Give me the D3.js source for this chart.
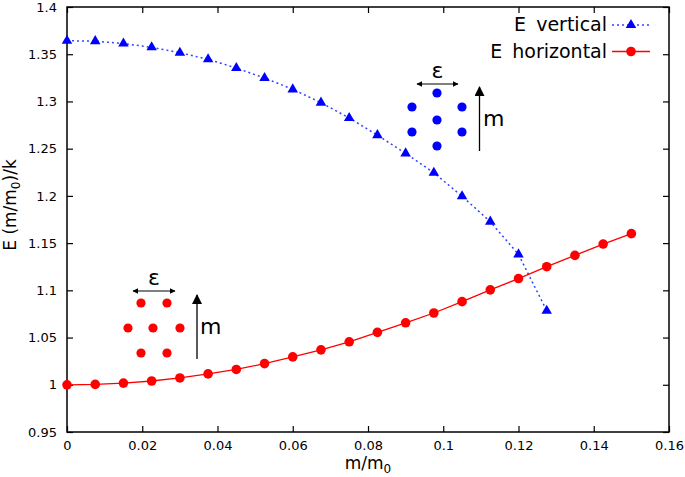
<!DOCTYPE html>
<html><head><meta charset="utf-8">
<script src="https://cdn.jsdelivr.net/npm/d3@7"></script>
<style>body{margin:0;background:#fff}svg{display:block}text{font-family:"DejaVu Sans",sans-serif}</style>
</head><body>
<script>
const xTicks=[0,0.02,0.04,0.06,0.08,0.1,0.12,0.14,0.16];
const yTicks=[0.95,1,1.05,1.1,1.15,1.2,1.25,1.3,1.35,1.4];
const horizX=[0,0.0075,0.015,0.0225,0.03,0.0375,0.045,0.0525,0.06,0.0675,0.075,0.0825,0.09,0.0975,0.105,0.1125,0.12,0.1275,0.135,0.1425,0.15];
const horizY=[1.0,1.0004,1.0018,1.004,1.0072,1.0115,1.0162,1.0224,1.0295,1.037,1.0455,1.0555,1.0656,1.076,1.088,1.1005,1.1125,1.125,1.137,1.149,1.160];
const vertX=[0,0.0075,0.015,0.0225,0.03,0.0375,0.045,0.0525,0.06,0.0675,0.075,0.0825,0.09,0.0975,0.105,0.1125,0.12,0.1275];
const vertY=[1.3643,1.3638,1.3613,1.3573,1.3516,1.3446,1.3354,1.3248,1.3128,1.2987,1.2825,1.2643,1.245,1.2245,1.1996,1.1727,1.138,1.0784];
const seriesNames=["E vertical","E horizontal"];

const W=685,H=477;
const L=67,R=669,T=7,B=432;
const x=d3.scaleLinear().domain([0,0.16]).range([L,R]);
const y=d3.scaleLinear().domain([0.95,1.4]).range([B,T]);
const svg=d3.select("body").append("svg").attr("width",W).attr("height",H);

const gx=svg.append("g").attr("transform",`translate(0,${B})`).call(d3.axisBottom(x).tickValues(xTicks).tickSizeInner(-6).tickSizeOuter(0).tickPadding(9).tickFormat(d=>String(+d.toFixed(2))));
const gxt=svg.append("g").attr("transform",`translate(0,${T})`).call(d3.axisTop(x).tickValues(xTicks).tickSizeInner(-6).tickSizeOuter(0).tickFormat(""));
const gy=svg.append("g").attr("transform",`translate(${L},0)`).call(d3.axisLeft(y).tickValues(yTicks).tickSizeInner(-6).tickSizeOuter(0).tickPadding(10).tickFormat(d=>String(+d.toFixed(2))));
const gyr=svg.append("g").attr("transform",`translate(${R},0)`).call(d3.axisRight(y).tickValues(yTicks).tickSizeInner(-6).tickSizeOuter(0).tickFormat(""));
[gx,gxt,gy,gyr].forEach(g=>{g.select(".domain").remove();g.selectAll("line").attr("stroke","#000").attr("stroke-width",1.2);g.selectAll("text").attr("font-size",13).attr("fill","#000").attr("font-family","DejaVu Sans");});
svg.append("rect").attr("x",L).attr("y",T).attr("width",R-L).attr("height",B-T).attr("fill","none").attr("stroke","#000").attr("stroke-width",1.5);

const xt=svg.append("text").attr("x",368).attr("y",469).attr("text-anchor","middle").attr("font-size",17);
xt.append("tspan").text("m/m");
xt.append("tspan").attr("font-size",12).attr("dy",4).text("0");
const yt=svg.append("text").attr("transform","translate(16,205) rotate(-90)").attr("text-anchor","middle").attr("font-size",17);
yt.append("tspan").text("E (m/m");
yt.append("tspan").attr("font-size",12).attr("dy",4).text("0");
yt.append("tspan").attr("dy",-4).text(")/k");

const blue="#0000ff", red="#ff0000";
const line=d3.line().x(d=>x(d[0])).y(d=>y(d[1]));
const vData=vertX.map((v,i)=>[v,vertY[i]]);
const hData=horizX.map((v,i)=>[v,horizY[i]]);
svg.append("path").datum(vData).attr("d",line).attr("fill","none").attr("stroke","#3344ff").attr("stroke-width",1.5).attr("stroke-dasharray","2,3");
svg.append("path").datum(hData).attr("d",line).attr("fill","none").attr("stroke",red).attr("stroke-width",1.3);
const tri=d3.symbol().type(d3.symbolTriangle).size(48);
svg.selectAll(".tri").data(vData).enter().append("path").attr("d",tri).attr("transform",d=>`translate(${x(d[0])},${y(d[1])})`).attr("fill",blue);
svg.selectAll(".dot").data(hData).enter().append("circle").attr("cx",d=>x(d[0])).attr("cy",d=>y(d[1])).attr("r",4.8).attr("fill",red);

const lg=svg.append("g");
lg.append("text").attr("x",607).attr("y",31).attr("text-anchor","end").attr("font-size",19).attr("word-spacing",4).text(seriesNames[0]);
lg.append("text").attr("x",607).attr("y",58).attr("text-anchor","end").attr("font-size",19).attr("word-spacing",4).text(seriesNames[1]);
lg.append("line").attr("x1",612).attr("x2",650).attr("y1",25).attr("y2",25).attr("stroke","#3344ff").attr("stroke-width",1.5).attr("stroke-dasharray","2,3");
lg.append("path").attr("d",tri).attr("transform","translate(631,25)").attr("fill",blue);
lg.append("line").attr("x1",612).attr("x2",650).attr("y1",51.5).attr("y2",51.5).attr("stroke",red).attr("stroke-width",1.3);
lg.append("circle").attr("cx",631).attr("cy",51.5).attr("r",4.8).attr("fill",red);

const defs=svg.append("defs");
defs.append("marker").attr("id","ah").attr("viewBox","0 0 10 10").attr("refX",9).attr("refY",5).attr("markerWidth",6).attr("markerHeight",6).attr("markerUnits","userSpaceOnUse").attr("orient","auto-start-reverse")
  .append("path").attr("d","M0,0 L10,5 L0,10 Z").attr("fill","#000");
defs.append("marker").attr("id","ah2").attr("viewBox","0 0 10 10").attr("refX",9).attr("refY",5).attr("markerWidth",12).attr("markerHeight",10).attr("markerUnits","userSpaceOnUse").attr("orient","auto")
  .append("path").attr("d","M0,0 L10,5 L0,10 Z").attr("fill","#000");

function inset(ex0,ex1,ey,dots,col,ax,ay0,ay1,mx,my){
  const g=svg.append("g");
  g.append("line").attr("x1",ex0).attr("x2",ex1).attr("y1",ey).attr("y2",ey).attr("stroke","#000").attr("stroke-width",1.2).attr("marker-start","url(#ah)").attr("marker-end","url(#ah)");
  g.append("text").attr("x",(ex0+ex1)/2).attr("y",ey-6).attr("text-anchor","middle").attr("font-size",22).text("ε");
  g.selectAll("circle").data(dots).enter().append("circle").attr("cx",d=>d[0]).attr("cy",d=>d[1]).attr("r",4.6).attr("fill",col);
  g.append("line").attr("x1",ax).attr("x2",ax).attr("y1",ay0).attr("y2",ay1).attr("stroke","#000").attr("stroke-width",1.3).attr("marker-end","url(#ah2)");
  g.append("text").attr("x",mx).attr("y",my).attr("font-size",22).text("m");
}
inset(417,458,84,[[437,93],[412,107],[462,107],[437,120],[412,132],[462,132],[437,146]],blue,479.5,151,87,483,126);
inset(133,175,291,[[141,303],[167,303],[128,328],[153,328],[180,328],[141,353],[167,353]],red,197,359,295,200,334);
</script>
</body></html>
